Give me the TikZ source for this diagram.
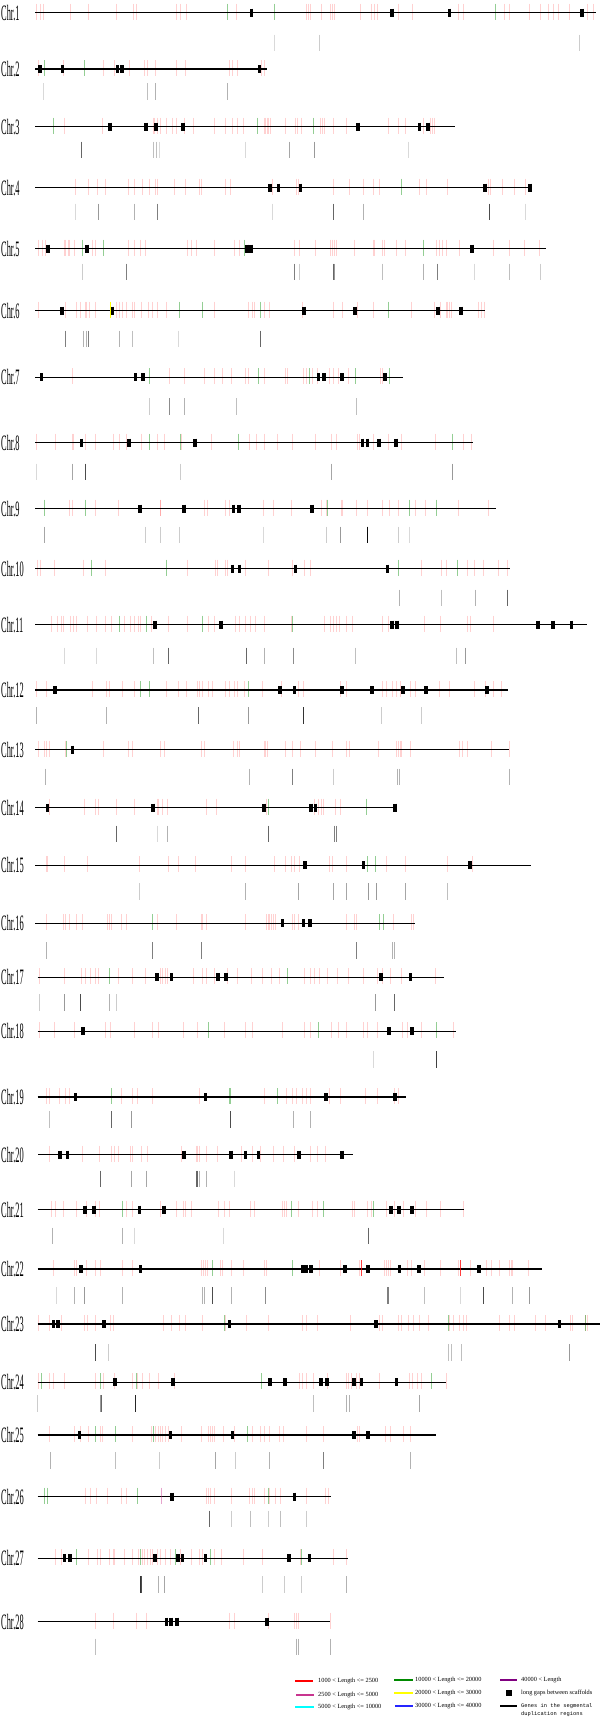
\documentclass[tikz,border=0pt]{standalone}
\usepackage{fontspec}
\setmainfont{Liberation Serif}
\newfontfamily\chrfont[FakeStretch=0.38]{Liberation Serif}
\newfontfamily\keymonofont{Liberation Mono}
\usepackage{tikz}
\definecolor{KeyRed}{HTML}{FF0000}
\definecolor{KeyMagenta}{HTML}{C8358F}
\definecolor{KeyCyan}{HTML}{00FFFF}
\definecolor{KeyGreen}{HTML}{008A00}
\definecolor{KeyYellow}{HTML}{FFFF00}
\definecolor{KeyBlue}{HTML}{2525FF}
\definecolor{KeyPurple}{HTML}{800080}

% #1 y, #2 number, #3 start, #4 end, #5 gaps, #6 red hits, #7 green hits, #8 dup genes (x/opacity), #9 dup offset
\newcommand{\chrrow}[9]{%
  \node[chrlabel] (chr#2) at (1,#1) {Chr.#2};
  \begin{scope}[xscale=0.3827]
    \foreach \r in {#6} \draw[hitred] (\r,#1-9) -- (\r,#1+7);
    \foreach \g in {#7} \draw[hitgreen] (\g,#1-9) -- (\g,#1+7);
    \draw[chrline] (#3,#1) -- (#4,#1);
    \foreach \b in {#5} \draw[gapbox] (\b,#1-4) -- (\b,#1+4);
    \foreach \d/\o in {#8} \draw[dupgene, draw opacity=\o] (\d,#1+#9) -- (\d,#1+#9+16.5);
  \end{scope}}

\begin{document}
\begin{tikzpicture}[
  x=1pt, y=-1pt,
  chrlabel/.style={anchor=west, inner sep=0pt, font=\chrfont\fontsize{22}{22}\selectfont},
  chrline/.style={line width=1.4pt, draw=black},
  gapbox/.style={line width=3.6pt, draw=black},
  hitred/.style={line width=0.7pt, draw=KeyRed, draw opacity=0.18},
  hitgreen/.style={line width=0.7pt, draw=KeyGreen, draw opacity=0.42},
  dupgene/.style={line width=0.75pt, draw=black},
  keyline/.style={line width=1.6pt},
  keytext/.style={anchor=west, inner sep=0pt, font=\fontsize{6.3}{7}\selectfont},
  keymono/.style={anchor=west, inner sep=0pt, align=left, font=\keymonofont\fontsize{5.4}{8.6}\selectfont},
  keysquare/.style={fill=black, minimum size=6pt, inner sep=0pt}
]
  \useasboundingbox (0,0) rectangle (600,1717);

  \chrrow{12.7}{1}{92}{1558}{657,1024,1174,1521}
    {95,105,112,183,230,305,348,355,462,470,486,617,800,806,812,840,862,868,873,942,970,977,985,1040,1078,1197,1212,1318,1330,1383,1413,1432,1447,1459,1488,1535,1551}
    {595,717,1295}{717/.15,835/.2,1515/.2}{22}
  \chrrow{69}{2}{92}{698}{104,163,307,319,678}
    {100,165,270,300,338,378,386,405,460,485,598,606,620,684,690}
    {117,220}{113/.15,386/.25,406/.3,595/.3}{14}
  \chrrow{126.7}{3}{92}{1188}{288,381,408,478,935,1096,1118}
    {168,268,400,404,412,420,435,450,460,482,505,560,590,607,620,635,690,694,698,702,706,746,772,778,788,837,842,848,870,905,1015,1042,1060,1105,1125,1130,1135}
    {140,672,820}{213/.6,402/.25,408/.25,416/.15,640/.15,757/.35,822/.4,1068/.15}{15}
  \chrrow{187.7}{4}{92}{1388}{705,728,785,1267,1385}
    {198,232,255,275,335,350,372,390,405,412,455,485,520,525,590,602,712,775,780,870,912,950,975,990,1095,1115,1170,1275,1282,1313,1345,1372}
    {1048}{198/.15,258/.4,350/.3,412/.5,712/.15,872/.6,950/.3,1278/.7,1373/.15}{16}
  \chrrow{248.7}{5}{92}{1427}{126,228,645,656,1234}
    {100,110,118,168,172,178,182,195,240,250,335,350,368,380,490,500,512,560,612,625,770,782,825,862,868,874,880,925,975,978,1000,1003,1035,1060,1140,1148,1155,1165,1200,1290,1330,1370,1410}
    {216,270,638,1106}{215/.2,330/.5,768/.5,782/.2,870/.6,875/.4,1000/.25,1106/.3,1142/.5,1240/.15,1331/.25,1412/.2}{15}
  \chrrow{310.7}{6}{92}{1266}{162,294,795,928,1145,1205}
    {100,170,200,210,222,225,233,250,305,312,320,330,345,352,370,388,398,410,435,560,650,660,665,690,705,790,870,895,935,975,1075,1135,1150,1165,1170,1175,1180,1250,1258,1265}
    {468,528,680,1015}{170/.5,218/.3,226/.3,232/.5,312/.3,347/.25,465/.15,680/.6}{20}
  \chrrow{377.3}{7}{92}{1052}{108,354,373,832,846,894,1006}
    {190,443,483,535,560,580,605,640,650,692,745,752,792,800,815,830,860,870,883,910,995,1000}
    {390,676,808,928,1018}{390/.2,443/.45,483/.3,618/.25,930/.25}{21}
  \chrrow{442.7}{8}{92}{1235}{213,337,510,947,960,990,1034}
    {95,145,188,192,222,248,295,312,330,370,412,430,475,552,652,670,690,725,765,825,865,880,935,940,975,1015,1050,1138,1210,1232}
    {390,472,622,1182}{95/.15,188/.35,224/.7,472/.2,866/.35,1182/.4}{21}
  \chrrow{508.7}{9}{92}{1295}{366,480,610,624,816}
    {182,188,250,310,418,420,535,542,588,600,688,715,760,840,852,892,895,930,960,1000,1018,1040,1085,1112,1198,1275}
    {117,222,855,1070,1140}{117/.35,380/.2,418/.2,470/.2,688/.15,852/.2,890/.4,959/.8,961/.8,1040/.2,1070/.15}{18}
  \chrrow{568.7}{10}{92}{1332}{608,626,772,1012}
    {98,105,142,218,275,490,562,568,590,594,640,700,765,795,810,1100,1152,1165,1220,1240,1262,1302,1325}
    {238,435,1042,1195}{1044/.3,1152/.25,1242/.3,1325/.6}{21}
  \chrrow{624.7}{11}{92}{1533}{405,578,1025,1037,1405,1445,1493}
    {135,150,160,165,185,192,200,228,252,275,290,325,340,350,362,368,395,440,490,545,560,615,625,640,655,668,690,760,848,862,870,880,888,905,920,1000,1015,1108,1150,1220,1228,1288}
    {312,382,530,765}{168/.15,252/.15,400/.25,440/.6,644/.6,692/.3,766/.45,928/.25,1193/.25,1216/.4}{23}
  \chrrow{690}{12}{92}{1328}{143,732,769,893,972,1053,1113,1273}
    {96,120,240,278,285,320,350,435,465,488,515,520,530,545,555,590,600,612,620,638,685,735,780,792,890,905,1000,1010,1025,1035,1045,1072,1085,1148,1175,1240,1268,1290,1310}
    {367,390,650}{96/.3,278/.3,518/.6,650/.4,792/.8,997/.2,1100/.2}{17}
  \chrrow{749.7}{13}{92}{1330}{189}
    {100,115,122,128,170,270,335,345,418,430,525,535,610,620,625,690,694,698,745,765,785,825,868,905,912,988,1035,1040,1045,1050,1072,1200,1208,1222,1285,1330}
    {174}{119/.3,652/.3,765/.5,870/.2,1038/.3,1044/.3,1330/.3}{19}
  \chrrow{807.7}{14}{92}{1032}{124,400,690,812,824,1032}
    {130,220,250,258,305,350,410,415,425,438,540,565,695,822,832,840,845,875,890}
    {702,958}{305/.6,412/.15,438/.3,702/.6,875/.5,879/.5}{18}
  \chrrow{865.3}{15}{92}{1388}{797,950,1228}
    {120,125,168,228,365,440,465,510,605,640,718,745,760,770,782,860,868,905,1010,1058,1168,1235}
    {960,982}{365/.2,640/.3,780/.35,872/.35,905/.35,963/.4,984/.4,1058/.35,1168/.25}{18}
  \chrrow{923.3}{16}{92}{1085}{738,793,810}
    {122,165,170,182,200,215,280,285,290,318,330,412,460,525,530,540,640,695,700,705,710,715,720,765,770,780,905,925,930,1028,1075,1080}
    {398,990,1002}{122/.3,398/.5,527/.5,930/.5,1025/.3,1030/.3}{19}
  \chrrow{977.3}{17}{98}{1160}{411,448,569,591,995,1073}
    {103,168,212,222,235,248,258,310,345,380,418,425,432,438,505,528,540,560,595,620,658,685,710,730,795,812,822,835,855,882,910,950,985,1000,1020,1048,1138}
    {287,750}{103/.2,167/.4,210/.7,287/.3,305/.2,980/.4,1030/.6}{17}
  \chrrow{1031.3}{18}{98}{1192}{217,1017,1076}
    {103,142,195,275,288,352,398,415,478,515,585,640,660,738,795,810,865,885,905,950,960,985,1052,1065,1100,1185}
    {545,832,1140}{975/.15,1140/.75}{20}
  \chrrow{1097}{19}{98}{1062}{197,537,852,1032}
    {120,130,155,172,182,318,345,360,398,520,690,748,765,775,790,800,810,860,890,955,985,1030,1040}
    {290,598,602,725}{130/.25,292/.6,343/.4,601/.7,767/.3,810/.3}{14}
  \chrrow{1154.7}{20}{100}{922}{157,176,481,603,641,675,781,894}
    {130,215,260,290,300,308,340,345,370,385,475,512,515,520,540,568,630,660,680,715,740,770,810,830,850}
    {}{262/.6,342/.35,383/.35,512/.6,517/.6,520/.3,538/.3,612/.15}{16}
  \chrrow{1209.7}{21}{98}{1213}{222,245,364,428,1021,1042,1076}
    {135,145,165,200,225,250,260,330,345,420,460,480,485,500,570,585,598,655,665,738,742,748,780,815,830,920,925,960,970,1010,1030,1055,1085,1115,1150,1212}
    {320,762,845,975}{138/.3,320/.3,352/.15,583/.15,962/.6}{18}
  \chrrow{1269}{22}{98}{1415}{211,367,790,800,812,901,962,1044,1095,1252}
    {140,195,200,225,250,262,320,345,527,532,537,542,575,580,605,635,690,695,835,890,940,945,1005,1010,1015,1020,1065,1075,1110,1150,1198,1203,1230,1270,1285,1305,1330,1335,1340,1380}
    {555,765}{147/.15,195/.3,220/.4,320/.3,530/.3,535/.3,555/.7,605/.3,693/.45,1012/.5,1015/.5,1110/.25,1202/.15,1263/.7,1338/.3,1383/.4}{18}
  \chrrow{1324}{23}{98}{1568}{140,151,271,600,982,1462}
    {100,130,160,220,228,250,288,297,428,448,468,485,530,590,645,700,790,800,830,915,990,1000,1040,1050,1068,1080,1095,1120,1175,1185,1200,1210,1218,1305,1330,1345,1400,1425,1490,1495,1530,1535}
    {585,1172,1530}{248/.7,283/.2,1172/.25,1180/.25,1205/.25,1488/.4}{20}
  \chrrow{1382.3}{24}{98}{1165}{300,452,705,744,839,855,925,945,1036}
    {100,130,140,168,250,270,300,345,360,372,390,415,455,782,790,800,820,855,905,910,918,930,940,990,1070,1078,1090,1100,1165}
    {108,262,355,683,1128}{98/.2,262/.4,265/.6,355/.85,820/.25,905/.3,912/.3,1096/.35}{13}
  \chrrow{1435}{25}{98}{1140}{208,446,607,925,962}
    {130,195,210,230,262,268,345,395,405,415,420,425,432,440,475,525,545,550,555,560,583,612,660,680,690,705,730,740,800,845,935,940,1008,1020,1055,1072}
    {250,302,400,647}{131/.3,302/.25,416/.2,563/.35,615/.2,705/.3,845/.5,1072/.3}{17}
  \chrrow{1496.7}{26}{98}{866}{449,770}
    {222,235,252,280,318,330,540,545,550,560,605,652,660,665,690,705,720,732,800,850,857}
    {115,125,360,700}{548/.6,605/.2,655/.25,702/.2,733/.25,800/.2}{14}
  \chrrow{1558.3}{27}{98}{910}{169,183,405,465,477,537,755,809}
    {145,160,230,255,262,285,295,300,325,345,362,372,378,385,392,398,410,420,432,445,470,500,520,528,560,578,635,685,785,870,905}
    {200,366,458,550,787}{366/.8,370/.7,415/.3,430/.35,685/.2,742/.2,788/.2,905/.3}{18}
  \chrrow{1621.7}{28}{98}{862}{435,447,462,698}
    {248,295,355,383,600,612,700,770,775,780,862}
    {}{248/.25,775/.3,780/.3,862/.3}{17}

  % odd single hits
  \begin{scope}[xscale=0.3827]
    \draw[line width=0.8pt, draw=KeyYellow] (288,301.7) -- (288,317.7);
    \draw[hitred, draw opacity=0.7] (945,1260) -- (945,1276);
    \draw[hitred, draw opacity=0.7] (1203,1260) -- (1203,1276);
    \draw[line width=0.7pt, draw=KeyMagenta, draw opacity=0.45] (422,1487.7) -- (422,1503.7);
  \end{scope}

  % key
  \draw[keyline, draw=KeyRed] (295,1681) -- (313,1681);
  \node[keytext] (key1) at (318,1681) {1000 < Length <= 2500};
  \draw[keyline, draw=KeyMagenta] (296,1695) -- (314,1695);
  \node[keytext] (key2) at (318,1695) {2500 < Length <= 5000};
  \draw[keyline, draw=KeyCyan] (295,1707) -- (314,1707);
  \node[keytext] (key3) at (318,1707) {5000 < Length <= 10000};
  \draw[keyline, draw=KeyGreen] (394,1680) -- (413,1680);
  \node[keytext] (key4) at (415,1680) {10000 < Length <= 20000};
  \draw[keyline, draw=KeyYellow] (394,1693) -- (413,1693);
  \node[keytext] (key5) at (415,1693) {20000 < Length <= 30000};
  \draw[keyline, draw=KeyBlue] (395,1706) -- (413,1706);
  \node[keytext] (key6) at (415,1706) {30000 < Length <= 40000};
  \draw[keyline, draw=KeyPurple] (500,1680) -- (517,1680);
  \node[keytext] (key7) at (521,1680) {40000 < Length};
  \node[keysquare] (gapkey) at (509,1693) {};
  \node[keytext] (key8) at (521,1693) {long gaps between scaffolds};
  \draw[keyline, draw=black] (500,1706) -- (517,1706);
  \node[keymono] (key9) at (521,1710) {Genes in the segmental\\duplication regions};
\end{tikzpicture}
\end{document}
